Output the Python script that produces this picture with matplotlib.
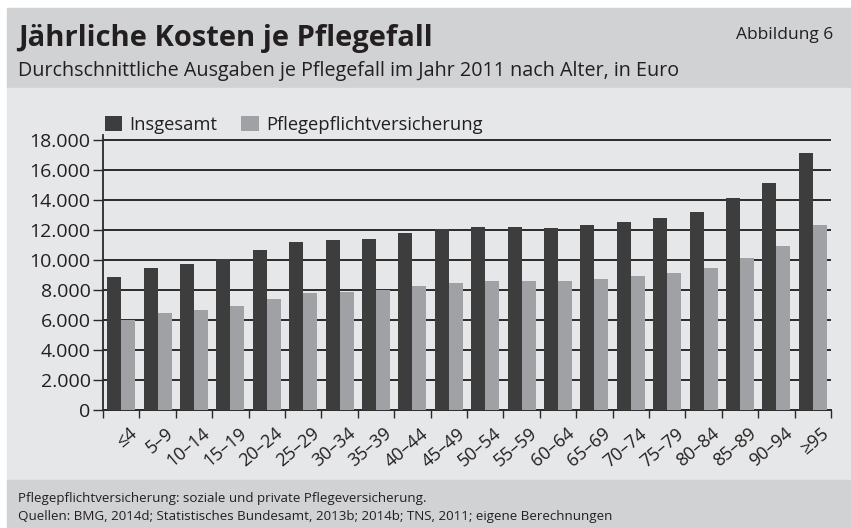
import numpy as np
import matplotlib.pyplot as plt
import matplotlib.transforms as mtransforms
from matplotlib.patches import Rectangle

plt.rcParams['font.family'] = ['Open Sans', 'DejaVu Sans']

# Altersgruppen und Kosten je Pflegefall (Euro)
age_groups = ["≤4", "5–9", "10–14", "15–19", "20–24", "25–29", "30–34", "35–39",
              "40–44", "45–49", "50–54", "55–59", "60–64", "65–69", "70–74",
              "75–79", "80–84", "85–89", "90–94", "≥95"]
insgesamt = [8880, 9490, 9730, 10090, 10690, 11200, 11360, 11420, 11800, 12090,
             12220, 12220, 12160, 12360, 12560, 12820, 13220, 14160, 15160, 17160]
ppv = [6000, 6490, 6690, 6960, 7420, 7820, 7890, 8000, 8290, 8490,
       8620, 8620, 8620, 8760, 8960, 9160, 9490, 10160, 10960, 12360]
y_ticks = [0, 2000, 4000, 6000, 8000, 10000, 12000, 14000, 16000, 18000]

W, H = 851, 528
txt = '#231f20'
dark = '#3d3d3d'
light = '#a0a1a4'

fig = plt.figure(figsize=(W / 100, H / 100), dpi=100)
fig.patch.set_facecolor('white')


def px_rect(x0, y0, x1, y1, color):
    # rectangle in pixel coords (top-left origin)
    fig.patches.append(Rectangle((x0 / W, 1 - y1 / H), (x1 - x0) / W, (y1 - y0) / H,
                                 transform=fig.transFigure, color=color, zorder=-10))


px_rect(7, 8, W, 88, '#d1d2d4')
px_rect(7, 88, W, 480, '#e6e7e8')
px_rect(7, 480, W, H, '#d1d2d4')

fig.text(18 / W, 1 - 46 / H, "Jährliche Kosten je Pflegefall", fontsize=21,
         fontweight='bold', color=txt, va='baseline')
fig.text(833 / W, 1 - 39 / H, "Abbildung 6", fontsize=12.5, color=txt,
         ha='right', va='baseline')
fig.text(18 / W, 1 - 76 / H, "Durchschnittliche Ausgaben je Pflegefall im Jahr 2011 nach Alter, in Euro",
         fontsize=14.2, color=txt, va='baseline')
fig.text(18 / W, 1 - 502 / H, "Pflegepflichtversicherung: soziale und private Pflegeversicherung.",
         fontsize=9.6, color=txt, va='baseline')
fig.text(18 / W, 1 - 520 / H, "Quellen: BMG, 2014d; Statistisches Bundesamt, 2013b; 2014b; TNS, 2011; eigene Berechnungen",
         fontsize=9.6, color=txt, va='baseline')

ax = fig.add_axes([103 / W, (H - 410) / H, (831 - 103) / W, 275 / H])
ax.set_facecolor('none')

x = np.arange(len(age_groups))
bw = 0.385
ax.bar(x - bw / 2, insgesamt, bw, color=dark, label='Insgesamt', zorder=3)
ax.bar(x + bw / 2, ppv, bw, color=light, label='Pflegepflichtversicherung', zorder=3)

ax.set_xlim(-0.5, len(age_groups) - 0.5)
ax.set_ylim(0, 18330)
ax.set_yticks(y_ticks)
ax.set_yticklabels([f"{v:,}".replace(",", ".") for v in y_ticks], fontsize=14, color=txt)
ax.yaxis.grid(True, color='#2a2a2a', lw=1.4, zorder=1)
ax.set_axisbelow(True)
ax.tick_params(axis='y', length=7, width=1, color='#2a2a2a', pad=2)

ax.set_xticks(x)
ax.set_xticklabels(age_groups, rotation=40, ha='right', rotation_mode='anchor',
                   fontsize=13, color=txt)
ax.tick_params(axis='x', which='major', length=0, pad=9)
shift = mtransforms.ScaledTranslation(8 / 100, -2 / 100, fig.dpi_scale_trans)
for lbl in ax.get_xticklabels():
    lbl.set_transform(lbl.get_transform() + shift)
ax.set_xticks(np.arange(-0.5, len(age_groups)), minor=True)
ax.tick_params(axis='x', which='minor', length=6, width=1, color='#2a2a2a')

for s in ['top', 'right']:
    ax.spines[s].set_visible(False)
ax.spines['left'].set_color('#2a2a2a')
ax.spines['left'].set_linewidth(1.3)
ax.spines['bottom'].set_color('#2a2a2a')
ax.spines['bottom'].set_linewidth(1.4)

fig.legend(loc='upper left', bbox_to_anchor=(88 / W, 1 - 99 / H), ncol=2,
           frameon=False, fontsize=13.2, handlelength=0.95, handleheight=0.95,
           handletextpad=0.4, columnspacing=1.3, labelcolor=txt)

fig.savefig('out.png', dpi=100)
